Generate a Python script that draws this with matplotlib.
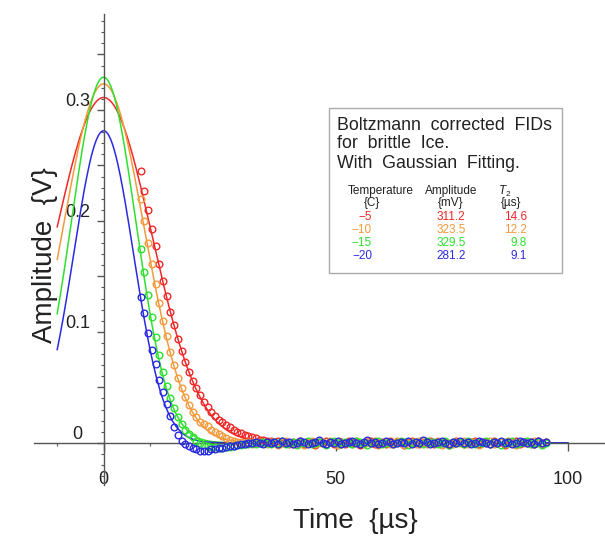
import numpy as np
import matplotlib
matplotlib.use("Agg")
import matplotlib.pyplot as plt
from matplotlib.ticker import MultipleLocator
from matplotlib.patches import Rectangle

plt.rcParams['font.family'] = ['Liberation Sans', 'DejaVu Sans']
plt.rcParams['mathtext.fontset'] = 'custom'
plt.rcParams['mathtext.rm'] = 'Liberation Sans'
plt.rcParams['mathtext.it'] = 'Liberation Sans:italic'

# ---------------- data ----------------
temps = [-5, -10, -15, -20]            # C
amps_mV = [311.2, 323.5, 329.5, 281.2]  # fitted amplitude
t2_us = [14.6, 12.2, 9.8, 9.1]          # fitted T2
colors = ['#f02828', '#f29a3c', '#2ee02e', '#2a2ae0']

# sampling of the measured FIDs
t_start = 8.0
t_step = 0.8
n_pts = 110
times = t_start + t_step * np.arange(n_pts)

fid_m5 = [0.245, 0.227, 0.210, 0.193, 0.177, 0.161, 0.146, 0.132, 0.118, 0.106,
          0.094, 0.083, 0.073, 0.064, 0.056, 0.049, 0.043, 0.037, 0.032, 0.028,
          0.024, 0.021, 0.019, 0.016, 0.014, 0.012, 0.010, 0.009, 0.007, 0.006,
          0.005, 0.004, 0.003, 0.003, 0.002,
          0.002, 0.001, 0.002, 0.000, 0.001, -0.001, 0.001, 0.000, 0.002, -0.001,
          0.000, 0.001, -0.002, 0.001, 0.000, 0.002, 0.001, -0.001, 0.000, 0.001,
          -0.001, 0.002, 0.000, 0.001, -0.002, 0.000, 0.001, 0.002, -0.001, 0.000,
          0.001, -0.001, 0.002, 0.000, 0.001, 0.000, -0.002, 0.001, 0.002, 0.000,
          -0.001, 0.001, 0.000, 0.002, -0.001, 0.001, 0.000, 0.001, -0.002, 0.000,
          0.002, 0.001, -0.001, 0.000, 0.001, 0.002, -0.001, 0.000, 0.001, -0.001,
          0.002, 0.000, 0.001, -0.002, 0.001, 0.000, 0.002, -0.001, 0.001, 0.000,
          0.001, -0.001, 0.002, 0.000, 0.001]

fid_m10 = [0.220, 0.200, 0.180, 0.161, 0.143, 0.126, 0.110, 0.096, 0.082, 0.070,
           0.058, 0.049, 0.041, 0.034, 0.028, 0.023, 0.019, 0.017, 0.015, 0.012,
           0.010, 0.008, 0.006, 0.004, 0.003, 0.002, 0.001, 0.001, 0.000, 0.001,
           -0.001, 0.000, 0.001, 0.000, -0.001,
           0.001, 0.000, -0.002, 0.001, 0.002, 0.000, -0.001, 0.001, 0.000, -0.002,
           0.001, 0.002, -0.001, 0.000, 0.001, -0.001, 0.002, 0.000, -0.002, 0.001,
           0.000, 0.001, -0.001, 0.002, 0.000, -0.001, 0.001, 0.000, 0.002, -0.002,
           0.000, 0.001, -0.001, 0.000, 0.002, 0.001, -0.002, 0.000, 0.001, -0.001,
           0.002, 0.000, -0.001, 0.001, 0.000, 0.002, -0.002, 0.001, 0.000, -0.001,
           0.001, 0.000, 0.002, -0.001, 0.000, 0.001, -0.002, 0.001, 0.000, 0.002,
           -0.001, 0.000, 0.001, -0.001, 0.002, 0.000, -0.002, 0.001, 0.000, 0.001,
           -0.001, 0.002, 0.000, -0.001, 0.001]

fid_m15 = [0.175, 0.154, 0.133, 0.113, 0.095, 0.079, 0.064, 0.051, 0.040, 0.031,
           0.023, 0.017, 0.012, 0.008, 0.005, 0.002, 0.000, -0.002, -0.003, -0.004,
           -0.004, -0.005, -0.005, -0.004, -0.004, -0.003, -0.002, -0.002, -0.001, -0.001,
           0.000, -0.001, 0.000, 0.001, 0.000,
           -0.001, 0.001, 0.000, 0.002, -0.001, 0.000, 0.001, -0.002, 0.001, 0.000,
           0.002, -0.001, 0.000, 0.001, 0.000, -0.002, 0.001, 0.002, 0.000, -0.001,
           0.001, 0.000, -0.001, 0.002, 0.001, 0.000, -0.002, 0.000, 0.001, 0.002,
           -0.001, 0.000, 0.001, -0.001, 0.000, 0.002, 0.001, -0.002, 0.000, 0.001,
           0.000, -0.001, 0.002, 0.000, 0.001, -0.001, 0.000, 0.002, -0.002, 0.001,
           0.000, 0.001, -0.001, 0.002, 0.000, -0.001, 0.001, 0.000, 0.002, -0.001,
           0.001, 0.000, -0.002, 0.001, 0.000, 0.002, -0.001, 0.000, 0.001, 0.002,
           -0.001, 0.000, 0.001, -0.002, 0.000]

fid_m20 = [0.131, 0.117, 0.099, 0.084, 0.071, 0.057, 0.046, 0.035, 0.024, 0.014,
           0.007, 0.002, -0.001, -0.003, -0.005, -0.006, -0.007, -0.007, -0.007, -0.006,
           -0.006, -0.005, -0.005, -0.004, -0.003, -0.003, -0.002, -0.001, -0.001, 0.000,
           0.000, 0.001, 0.000, -0.001, 0.001,
           0.000, 0.001, -0.001, 0.002, 0.000, 0.001, -0.001, 0.000, 0.002, 0.001,
           -0.001, 0.000, 0.001, 0.003, 0.000, -0.001, 0.001, 0.000, 0.002, -0.001,
           0.000, 0.001, 0.002, 0.000, -0.001, 0.001, 0.003, 0.000, 0.001, -0.001,
           0.000, 0.002, 0.001, -0.001, 0.000, 0.001, 0.000, 0.002, -0.001, 0.001,
           0.000, 0.003, 0.001, -0.001, 0.000, 0.001, 0.002, 0.000, -0.001, 0.001,
           0.000, 0.002, 0.000, 0.001, -0.001, 0.000, 0.002, 0.001, 0.000, -0.001,
           0.001, 0.000, 0.002, 0.000, 0.001, -0.001, 0.000, 0.002, 0.001, 0.000,
           0.001, -0.001, 0.002, 0.000, 0.001]

fids = [fid_m5, fid_m10, fid_m15, fid_m20]

# ---------------- figure ----------------
W, H = 605, 537
fig = plt.figure(figsize=(W / 100, H / 100), dpi=100)


def px(x, y):
    # pixel position (from top-left) -> figure fraction
    return x / W, 1 - y / H


ax = fig.add_axes([34 / W, 1 - 485 / H, (W - 34) / W, (485 - 14.5) / H])
ax.set_xlim(-15, 108)
ax.set_ylim(-0.038, 0.386)
ax.patch.set_alpha(0)

# Gaussian fits A*exp(-(t/T2)^2) from the fitted parameters
t_fit = np.linspace(-10, 100, 600)
for A, T2, c in zip(amps_mV, t2_us, colors):
    ax.plot(t_fit, A / 1000.0 * np.exp(-(t_fit / T2) ** 2), color=c, lw=1.1, zorder=2)

for y, c in zip(fids, colors):
    ax.plot(times, y, 'o', mfc='none', mec=c, ms=4.8, mew=1.0, zorder=3)

axis_col = '#555555'
for s in ['top', 'right']:
    ax.spines[s].set_visible(False)
ax.spines['left'].set_position(('data', 0))
ax.spines['bottom'].set_position(('data', 0))
for s in ['left', 'bottom']:
    ax.spines[s].set_color(axis_col)
    ax.spines[s].set_linewidth(1.0)

ax.set_xticks([0, 50, 100])
ax.set_xticklabels(['0', '50', '100'])
ax.xaxis.set_minor_locator(MultipleLocator(10))
ax.tick_params(axis='x', which='major', direction='out', length=6, width=1,
               color=axis_col, pad=14.5, labelsize=13, labelcolor='#222222')
ax.tick_params(axis='x', which='minor', direction='out', length=2, width=0.8,
               color=axis_col)

yt = [0, 0.05, 0.1, 0.15, 0.2, 0.25, 0.3, 0.35]
ax.set_yticks(yt)
ax.set_yticklabels(['0', '', '0.1', '', '0.2', '', '0.3', ''], ha='center', va='bottom')
ax.yaxis.set_minor_locator(MultipleLocator(0.01))
ax.tick_params(axis='y', which='major', direction='out', length=5, width=1,
               color=axis_col, pad=13.7, labelsize=13, labelcolor='#222222')
ax.tick_params(axis='y', which='minor', direction='out', length=2, width=0.8,
               color=axis_col)

fig.text(*px(45, 255), 'Amplitude  {V}', rotation=90, ha='center', va='center',
         fontsize=20, color='#222222')
fig.text(*px(355, 521), 'Time  {\u00b5s}', ha='center', va='center',
         fontsize=20, color='#222222')

# ---------------- annotation box ----------------
x0, y0 = px(329, 273)
x1, y1 = px(562, 108)
fig.patches.append(Rectangle((x0, y0), x1 - x0, y1 - y0, transform=fig.transFigure,
                             fill=True, facecolor='white', edgecolor='#aaaaaa', lw=1.0))

title_lines = ['Boltzmann  corrected  FIDs', 'for  brittle  Ice.', 'With  Gaussian  Fitting.']
for line, yy in zip(title_lines, [125, 144, 163]):
    fig.text(*px(337, yy), line, ha='left', va='center', fontsize=12.8, color='#222222')

fs = 8.5
fig.text(*px(381, 191), 'Temperature', ha='center', va='center', fontsize=fs, color='#222222')
fig.text(*px(372, 203), '{C}', ha='center', va='center', fontsize=fs, color='#222222')
fig.text(*px(451, 191), 'Amplitude', ha='center', va='center', fontsize=fs, color='#222222')
fig.text(*px(451, 203), '{mV}', ha='center', va='center', fontsize=fs, color='#222222')
fig.text(*px(498, 191), r'$T_2$', ha='left', va='center', fontsize=fs, color='#222222')
fig.text(*px(511, 203), '{\u00b5s}', ha='center', va='center', fontsize=fs, color='#222222')

for k, (tc, A, T2, c) in enumerate(zip(temps, amps_mV, t2_us, colors)):
    yy = 217 + 13 * k
    fig.text(*px(372, yy), f'{tc}'.replace('-', '\u2212'), ha='right', va='center',
             fontsize=fs, color=c)
    fig.text(*px(451, yy), f'{A:.1f}', ha='center', va='center', fontsize=fs, color=c)
    fig.text(*px(527, yy), f'{T2:.1f}', ha='right', va='center', fontsize=fs, color=c)

fig.savefig('out.png', dpi=100)
